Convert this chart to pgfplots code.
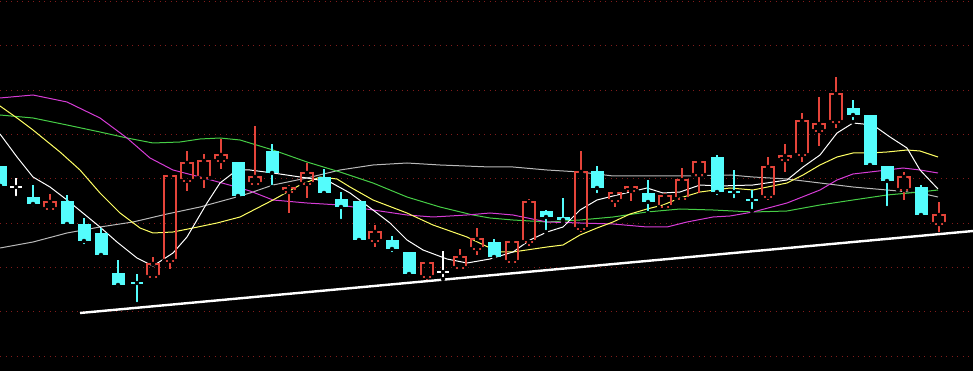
\documentclass[border=0pt]{standalone}
\usepackage{pgfplots}
\usepackage{pgfplotstable}
\pgfplotsset{compat=1.18}
\definecolor{cRed}{RGB}{228,68,58}
\definecolor{cCyan}{RGB}{84,252,252}
\definecolor{cYel}{RGB}{255,255,100}
\definecolor{cMag}{RGB}{214,60,214}
\definecolor{cGrn}{RGB}{70,205,70}
\definecolor{cGry}{RGB}{185,185,185}
\definecolor{cGrid}{RGB}{130,28,28}

% red (up) candles: x open high low close
\pgfplotstableread{
x open high low close
50 162 177 160 169
153 94 114 94 107
170 110 195 102 195
187 190 220 180 208
204 193 217 183 210
221 210 232 202 216
255 187 245 187 194
289 179 186 158 183
307 187 208 173 198
375 130 146 124 139
427 94 110 90 108
460 103 122 103 114
477 122 143 116 132
512 109 130 109 129
529 129 172 125 169
581 142 220 139 199
615 170 180 164 178
631 180 186 170 184
665 164 178 164 175
682 172 203 172 191
699 196 211 178 209
768 174 214 171 204
785 211 227 199 215
802 216 258 209 250
819 240 274 225 247
836 249 294 243 277
904 181 199 171 194
939 147 169 139 156
}\redT

% cyan (down) candles: x open high low close
\pgfplotstableread{
x open high low close
0 205 205 185 185
33 174 186 163 167
67 170 176 144 147
84 147 153 125 130
101 138 143 112 116
118 98 111 82 86
238 209 209 174 175
272 220 227 184 198
324 194 202 177 178
341 172 179 150 164
359 170 170 130 131
392 131 135 117 122
409 119 119 93 97
494 129 132 110 114
546 160 161 139 154
563 154 173 148 151
597 200 205 176 183
648 178 191 158 169
717 214 216 174 179
853 263 271 249 256
870 256 256 203 206
887 205 205 163 190
921 184 186 154 156
}\cyanT

% doji candles
\pgfplotstableread{
x open high low close
16 184 193 173 184
443 99 120 92 99
}\dojiW
\pgfplotstableread{
x open high low close
137 88 97 67 88
734 179 201 171 179
752 171 181 160 171
}\dojiC

\begin{document}
\begin{tikzpicture}
\path[use as bounding box, fill=black] (0,0) rectangle (973bp,371bp);
\begin{axis}[
  at={(0,0)}, anchor=south west,
  width=973bp, height=371bp, scale only axis,
  xmin=0, xmax=973, ymin=0, ymax=371,
  axis line style={draw=none},
  xtick=\empty,
  ytick={14,59,103,147,192,236,280,325,369},
  yticklabels={},
  major tick length=0pt,
  ymajorgrids,
  grid style={cGrid, line width=1bp, dash pattern=on 1bp off 4.5bp},
  clip=true,
]
% moving averages
\addplot[cGry, line width=1bp] coordinates {
(0,123) (33,129) (67,138) (100,144) (133,149) (167,157) (200,164) (233,173)
(250,178) (273,186) (307,193) (340,201) (373,206) (407,208) (440,206) (490,204)
(513,204) (547,201) (580,199) (613,195) (647,195) (680,195) (730,196) (753,194)
(787,192) (820,188) (853,184) (887,181) (920,178) (938,174)};
\addplot[cGrn, line width=1bp] coordinates {
(0,256) (33,253) (67,246) (100,239) (127,233) (153,228) (180,229) (200,232)
(220,233) (240,231) (273,221) (307,209) (340,199) (373,188) (407,174) (440,164)
(473,156) (490,153) (513,151) (547,149) (580,151) (613,154) (647,159) (680,162)
(713,161) (753,159) (787,160) (820,166) (853,171) (887,176) (920,179) (938,181)};
\addplot[cMag, line width=1bp] coordinates {
(0,273) (33,276) (67,269) (100,253) (127,233) (150,213) (173,201) (200,194)
(233,185) (250,180) (273,171) (307,168) (340,166) (373,161) (407,156) (433,154)
(467,156) (490,158) (513,156) (547,149) (580,148) (613,147) (647,144) (667,144)
(687,149) (713,154) (730,155) (753,159) (787,168) (820,181) (837,191) (853,197)
(870,199) (887,201) (903,203) (920,201) (938,198)};
\addplot[cYel, line width=1bp] coordinates {
(0,265) (17,253) (33,241) (60,219) (80,201) (100,178) (120,158) (140,143)
(153,138) (173,139) (193,143) (217,148) (240,154) (273,171) (300,186) (320,194)
(337,192) (350,184) (373,171) (407,158) (433,146) (467,134) (490,123) (497,119)
(513,119) (547,124) (563,126) (580,136) (597,143) (613,149) (630,157) (647,162)
(663,166) (680,173) (700,179) (730,183) (753,181) (787,188) (803,196) (820,206)
(837,214) (853,218) (870,218) (887,219) (907,221) (920,220) (938,214)};
\addplot[white, line width=1bp] coordinates {
(0,237) (17,214) (33,194) (50,184) (67,171) (100,144) (117,129) (137,113)
(153,105) (173,118) (187,134) (207,168) (220,188) (237,201) (250,201) (273,198)
(307,193) (330,189) (350,178) (373,161) (390,148) (407,131) (423,121) (447,112)
(467,108) (490,112) (513,119) (530,131) (547,139) (563,144) (580,161) (597,171)
(613,175) (630,179) (647,183) (663,178) (680,179) (700,186) (720,185) (753,186)
(787,191) (803,204) (820,216) (837,238) (853,248) (873,246) (890,234) (907,223)
(920,201) (938,182)};

% ---- red candles: wicks (outside the hollow body) and outline
\addplot[only marks, mark=none, error bars/.cd, y dir=plus, y explicit, error mark=none,
  error bar style={cRed, line width=1.2bp}]
  table[x=x, y=close, y error expr=\thisrow{high}-\thisrow{close}] {\redT};
\addplot[only marks, mark=none, error bars/.cd, y dir=minus, y explicit, error mark=none,
  error bar style={cRed, line width=1.2bp}]
  table[x=x, y=open, y error expr=\thisrow{open}-\thisrow{low}] {\redT};
\addplot[only marks, mark=none, error bars/.cd, y dir=plus, y explicit, error mark=none,
  error bar style={cRed, line width=1.2bp, line cap=rect}]
  table[x expr=\thisrow{x}-6, y=open, y error expr=\thisrow{close}-\thisrow{open}] {\redT};
\addplot[only marks, mark=none, error bars/.cd, y dir=plus, y explicit, error mark=none,
  error bar style={cRed, line width=1.2bp, line cap=rect}]
  table[x expr=\thisrow{x}+6, y=open, y error expr=\thisrow{close}-\thisrow{open}] {\redT};
\addplot[only marks, mark=none, error bars/.cd, x dir=both, x fixed=6, error mark=none,
  error bar style={cRed, line width=1.2bp}]
  table[x=x, y=open] {\redT};
\addplot[only marks, mark=none, error bars/.cd, x dir=both, x fixed=6, error mark=none,
  error bar style={cRed, line width=1.2bp}]
  table[x=x, y=close] {\redT};

% ---- cyan candles: wick then filled body
\addplot[only marks, mark=none, error bars/.cd, y dir=plus, y explicit, error mark=none,
  error bar style={cCyan, line width=1.2bp}]
  table[x=x, y=low, y error expr=\thisrow{high}-\thisrow{low}] {\cyanT};
\addplot[only marks, mark=none, error bars/.cd, y dir=plus, y explicit, error mark=none,
  error bar style={cCyan, line width=13bp}]
  table[x=x, y=close, y error expr=\thisrow{open}-\thisrow{close}] {\cyanT};

% ---- doji crosses
\addplot[only marks, mark=none, error bars/.cd, y dir=plus, y explicit, error mark=none,
  error bar style={white, line width=1.2bp}]
  table[x=x, y=low, y error expr=\thisrow{high}-\thisrow{low}] {\dojiW};
\addplot[only marks, mark=none, error bars/.cd, x dir=both, x fixed=6, error mark=none,
  error bar style={white, line width=1.2bp}]
  table[x=x, y=open] {\dojiW};
\addplot[only marks, mark=none, error bars/.cd, y dir=plus, y explicit, error mark=none,
  error bar style={cCyan, line width=1.2bp}]
  table[x=x, y=low, y error expr=\thisrow{high}-\thisrow{low}] {\dojiC};
\addplot[only marks, mark=none, error bars/.cd, x dir=both, x fixed=6, error mark=none,
  error bar style={cCyan, line width=1.6bp}]
  table[x=x, y=open] {\dojiC};

% ---- trend line
\addplot[white, line width=2.4bp] coordinates {(80,58) (973,140)};
\end{axis}
\end{tikzpicture}
\end{document}
